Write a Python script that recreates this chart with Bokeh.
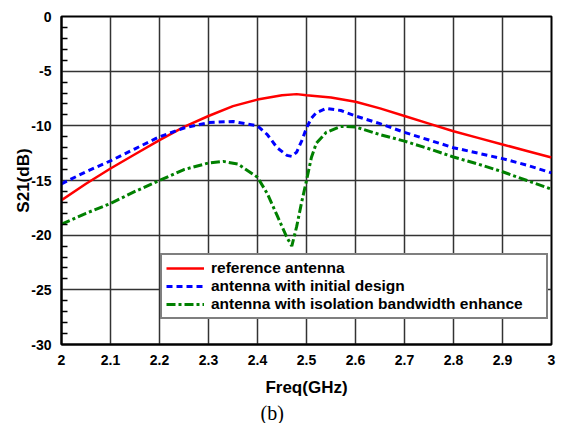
from bokeh.plotting import figure
from bokeh.models import FixedTicker, Title, Range1d
from bokeh.embed import file_html
from bokeh.resources import INLINE

# ---- data ----
ref_freq = [2.00, 2.05, 2.10, 2.15, 2.20, 2.25, 2.30, 2.35, 2.40, 2.45, 2.48, 2.50,
            2.55, 2.60, 2.65, 2.70, 2.75, 2.80, 2.85, 2.90, 2.95, 3.00]
ref_s21 = [-16.8, -15.3, -13.9, -12.6, -11.3, -10.1, -9.1, -8.2, -7.6, -7.2, -7.1, -7.2,
           -7.4, -7.8, -8.4, -9.1, -9.8, -10.5, -11.1, -11.7, -12.3, -12.9]

init_freq = [2.00, 2.05, 2.10, 2.15, 2.20, 2.25, 2.30, 2.35, 2.40, 2.42, 2.44, 2.46, 2.47,
             2.48, 2.49, 2.50, 2.51, 2.52, 2.54, 2.57, 2.60, 2.65, 2.70, 2.75, 2.80,
             2.85, 2.90, 2.95, 3.00]
init_s21 = [-15.3, -14.2, -13.2, -12.1, -11.0, -10.2, -9.7, -9.6, -10.0, -10.8, -12.0, -12.7, -12.8,
            -12.4, -11.4, -10.2, -9.3, -8.8, -8.4, -8.6, -9.1, -9.8, -10.6, -11.3, -12.0,
            -12.5, -13.0, -13.6, -14.3]

enh_freq = [2.00, 2.05, 2.10, 2.15, 2.20, 2.25, 2.30, 2.33, 2.36, 2.40, 2.42, 2.44, 2.46, 2.47,
            2.48, 2.49, 2.50, 2.51, 2.52, 2.54, 2.57, 2.60, 2.65, 2.70, 2.75, 2.80,
            2.85, 2.90, 2.95, 3.00]
enh_s21 = [-19.0, -18.0, -17.1, -16.0, -15.0, -14.0, -13.4, -13.25, -13.5, -14.7, -16.2, -18.2, -20.2, -21.0,
           -19.2, -17.0, -15.0, -12.9, -11.6, -10.6, -10.05, -10.1, -10.8, -11.4, -12.1, -12.85,
           -13.5, -14.2, -15.0, -15.8]

series_labels = ["reference antenna", "antenna with initial design",
                 "antenna with isolation bandwidth enhance"]

x_ticks = [2.0, 2.1, 2.2, 2.3, 2.4, 2.5, 2.6, 2.7, 2.8, 2.9, 3.0]
x_tick_labels = ["2", "2.1", "2.2", "2.3", "2.4", "2.5", "2.6", "2.7", "2.8", "2.9", "3"]
y_ticks = [-30, -25, -20, -15, -10, -5, 0]
y_tick_labels = ["-30", "-25", "-20", "-15", "-10", "-5", "0"]
y_minor = [v for v in range(-30, 1) if v % 5 != 0]

FONT = "Liberation Sans"

p = figure(width=564, height=423, output_backend="svg", toolbar_location=None,
           x_range=Range1d(2, 3), y_range=Range1d(-30, 0),
           min_border_left=61, min_border_right=13, min_border_top=16, min_border_bottom=79,
           background_fill_color="white", border_fill_color="white")

p.outline_line_color = "black"
p.outline_line_width = 2

p.xgrid.ticker = FixedTicker(ticks=x_ticks)
p.ygrid.ticker = FixedTicker(ticks=y_ticks)
for g in (p.xgrid, p.ygrid):
    g.grid_line_color = "#333333"
    g.grid_line_width = 1.5
    g.grid_line_alpha = 1.0

xa = p.xaxis[0]
xa.ticker = FixedTicker(ticks=x_ticks)
xa.major_label_overrides = {t: l for t, l in zip(x_ticks, x_tick_labels)}
xa.axis_label = "Freq(GHz)"
ya = p.yaxis[0]
ya.ticker = FixedTicker(ticks=y_ticks, minor_ticks=y_minor)
ya.major_label_overrides = {t: l for t, l in zip(y_ticks, y_tick_labels)}
ya.axis_label = "S21(dB)"

for ax in (xa, ya):
    ax.axis_line_color = "black"
    ax.axis_line_width = 2
    ax.major_tick_line_color = None
    ax.major_tick_in = 0
    ax.major_tick_out = 0
    ax.major_label_text_font = FONT
    ax.major_label_text_font_style = "bold"
    ax.major_label_text_font_size = "14px"
    ax.major_label_text_color = "black"
    ax.axis_label_text_font = FONT
    ax.axis_label_text_font_style = "bold"
    ax.axis_label_text_font_size = "17px"
    ax.axis_label_text_color = "black"

xa.minor_tick_line_color = None
xa.minor_tick_in = 0
xa.minor_tick_out = 0
xa.major_label_standoff = 10
xa.axis_label_standoff = 10
ya.minor_tick_in = 6
ya.minor_tick_out = 0
ya.minor_tick_line_color = "black"
ya.minor_tick_line_width = 1.5
ya.major_label_standoff = 10
ya.axis_label_standoff = -5

p.line(ref_freq, ref_s21, line_color="#ff0000", line_width=2.5, legend_label=series_labels[0])
p.line(init_freq, init_s21, line_color="#0000ff", line_width=3, line_dash="6 4",
       legend_label=series_labels[1])
p.line(enh_freq, enh_s21, line_color="#008000", line_width=3, line_dash="9 3 3 3",
       legend_label=series_labels[2])

lg = p.legend[0]
lg.location = (99, 25)
lg.border_line_color = "black"
lg.border_line_width = 2
lg.background_fill_color = "white"
lg.background_fill_alpha = 1.0
lg.label_text_font = FONT
lg.label_text_font_style = "bold"
lg.label_text_font_size = "15.5px"
lg.label_text_color = "black"
lg.glyph_width = 38
lg.glyph_height = 18
lg.label_height = 18
lg.label_standoff = 7
lg.label_width = 331
lg.spacing = 0
lg.padding = 4
lg.margin = 0

p.add_layout(Title(text="(b)", align="left", offset=199, text_font="Liberation Serif",
                   text_font_size="20px", text_font_style="normal", text_color="black",
                   standoff=0), "below")

open("out.html", "w").write(file_html(p, INLINE))
